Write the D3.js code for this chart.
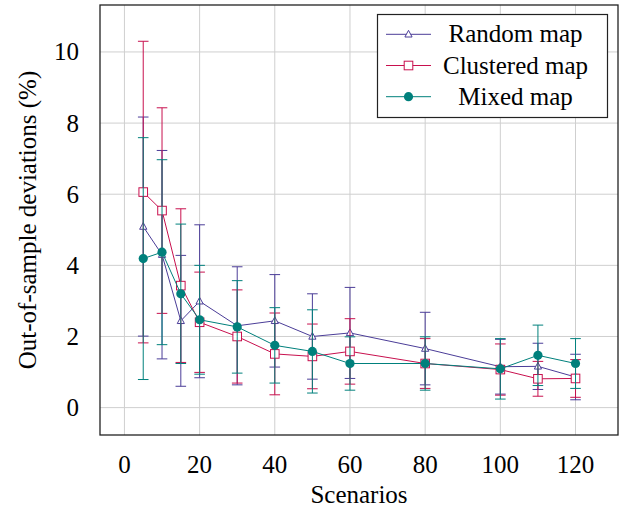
<!DOCTYPE html>
<html>
<head>
<meta charset="utf-8">
<script src="https://cdn.jsdelivr.net/npm/d3@7"></script>
</head>
<body style="margin:0">
<svg id="fig" width="626" height="510"></svg>
<script>
// scenario counts on the x axis
const scenarios = [5, 10, 15, 20, 30, 40, 50, 60, 80, 100, 110, 120];

// mean out-of-sample deviation (%) and half-width of the error bar, per map type
const randomMean    = [5.09, 4.30, 2.44, 2.99, 2.30, 2.44, 2.00, 2.10, 1.66, 1.15, 1.16, 0.86];
const randomErr     = [3.08, 2.93, 1.84, 2.15, 1.66, 1.30, 1.20, 1.28, 1.02, 0.77, 0.65, 0.64];
const clusteredMean = [6.06, 5.54, 3.43, 2.40, 2.00, 1.51, 1.44, 1.58, 1.24, 1.07, 0.81, 0.82];
const clusteredErr  = [4.24, 2.89, 2.16, 1.41, 1.31, 1.15, 0.91, 0.92, 0.70, 0.72, 0.49, 0.53];
const mixedMean     = [4.19, 4.37, 3.20, 2.47, 2.27, 1.75, 1.58, 1.24, 1.24, 1.09, 1.47, 1.24];
const mixedErr      = [3.40, 2.60, 1.96, 1.53, 1.30, 1.06, 1.17, 0.75, 0.75, 0.85, 0.85, 0.70];

const xTicks = [0, 20, 40, 60, 80, 100, 120];
const yTicks = [0, 2, 4, 6, 8, 10];

const seriesNames = ["Random map", "Clustered map", "Mixed map"];

const series = [
  { name: seriesNames[0], mean: randomMean, err: randomErr, color: "#4b3d98", marker: "triangle" },
  { name: seriesNames[1], mean: clusteredMean, err: clusteredErr, color: "#c8104e", marker: "square" },
  { name: seriesNames[2], mean: mixedMean, err: mixedErr, color: "#00807c", marker: "circle" }
];

const BASE = 22;          // font size the text is laid out at
const SCALE = 25 / BASE;  // blown up to ~25px like the reference

const svg = d3.select("#fig");
const frame = { left: 100, right: 618, top: 5, bottom: 435 };

const x = d3.scaleLinear().domain([-6.5, 131.3]).range([frame.left, frame.right]);
const y = d3.scaleLinear().domain([-0.77, 11.32]).range([frame.bottom, frame.top]);

// text is anchored by measuring it, not with text-anchor
function addText(parent, str, xPos, yPos, anchor, angle = 0) {
  const g = parent.append("g")
    .attr("transform", `translate(${xPos},${yPos}) rotate(${angle}) scale(${SCALE})`);
  const t = g.append("text")
    .attr("font-size", BASE)
    .style("font-family", '"Liberation Serif"')
    .text(str);
  const w = t.node().getComputedTextLength();
  t.attr("x", anchor === "middle" ? -w / 2 : anchor === "end" ? -w : 0);
  return g;
}

// grid
const grid = svg.append("g").attr("stroke", "#cfcfcf").attr("stroke-width", 1);
grid.selectAll("line.gx").data(xTicks).join("line")
  .attr("x1", d => x(d)).attr("x2", d => x(d))
  .attr("y1", frame.top).attr("y2", frame.bottom);
grid.selectAll("line.gy").data(yTicks).join("line")
  .attr("y1", d => y(d)).attr("y2", d => y(d))
  .attr("x1", frame.left).attr("x2", frame.right);

// tick labels, placed with the scales (pgfplots draws no visible tick marks here)
const labels = svg.append("g");
xTicks.forEach(t => addText(labels, t, x(t), frame.bottom + 38, "middle"));
yTicks.forEach(t => addText(labels, t, frame.left - 21, y(t) + 8.5, "end"));

// plot data
const plot = svg.append("g");
const capW = 5.3;

function drawMarker(g, type, color, cx, cy) {
  if (type === "triangle") {
    const s = 3.6;
    g.append("path")
      .attr("d", `M${cx},${cy - s * 1.1} L${cx + s},${cy + s * 0.75} L${cx - s},${cy + s * 0.75} Z`)
      .attr("fill", "#fff").attr("stroke", color).attr("stroke-width", 1);
  } else if (type === "square") {
    g.append("rect")
      .attr("x", cx - 4.3).attr("y", cy - 4.3).attr("width", 8.6).attr("height", 8.6)
      .attr("fill", "#fff").attr("stroke", color).attr("stroke-width", 1);
  } else {
    g.append("circle").attr("cx", cx).attr("cy", cy).attr("r", 4.6).attr("fill", color);
  }
}

const line = d3.line().x(d => x(d.x)).y(d => y(d.v));

series.forEach(s => {
  const pts = scenarios.map((sx, i) => ({ x: sx, v: s.mean[i], e: s.err[i] }));
  const g = plot.append("g");

  // error bars
  const eb = g.append("g").attr("stroke", s.color).attr("stroke-width", 1);
  pts.forEach(p => {
    const px = x(p.x);
    eb.append("line").attr("x1", px).attr("x2", px).attr("y1", y(p.v - p.e)).attr("y2", y(p.v + p.e));
    eb.append("line").attr("x1", px - capW).attr("x2", px + capW).attr("y1", y(p.v + p.e)).attr("y2", y(p.v + p.e));
    eb.append("line").attr("x1", px - capW).attr("x2", px + capW).attr("y1", y(p.v - p.e)).attr("y2", y(p.v - p.e));
  });

  g.append("path").datum(pts).attr("d", line)
    .attr("fill", "none").attr("stroke", s.color).attr("stroke-width", 1);

  pts.forEach(p => drawMarker(g, s.marker, s.color, x(p.x), y(p.v)));
});

// frame
svg.append("rect")
  .attr("x", frame.left).attr("y", frame.top)
  .attr("width", frame.right - frame.left).attr("height", frame.bottom - frame.top)
  .attr("fill", "none").attr("stroke", "#222").attr("stroke-width", 1.3);

// legend
const leg = svg.append("g");
leg.append("rect").attr("x", 377.5).attr("y", 14.5).attr("width", 230).attr("height", 103)
  .attr("fill", "#fff").attr("stroke", "#222").attr("stroke-width", 1.2);
const rowY = [34.3, 65.5, 96.7];
series.forEach((s, i) => {
  const ry = rowY[i];
  leg.append("line").attr("x1", 386).attr("x2", 431).attr("y1", ry).attr("y2", ry)
    .attr("stroke", s.color).attr("stroke-width", 1);
  drawMarker(leg, s.marker, s.color, 408.5, ry);
  addText(leg, s.name, 515.5, ry + 8, "middle");
});

// axis titles
addText(svg, "Scenarios", (frame.left + frame.right) / 2, 503, "middle");
addText(svg, "Out-of-sample deviations (%)", 36, (frame.top + frame.bottom) / 2, "middle", -90);
</script>
</body>
</html>
